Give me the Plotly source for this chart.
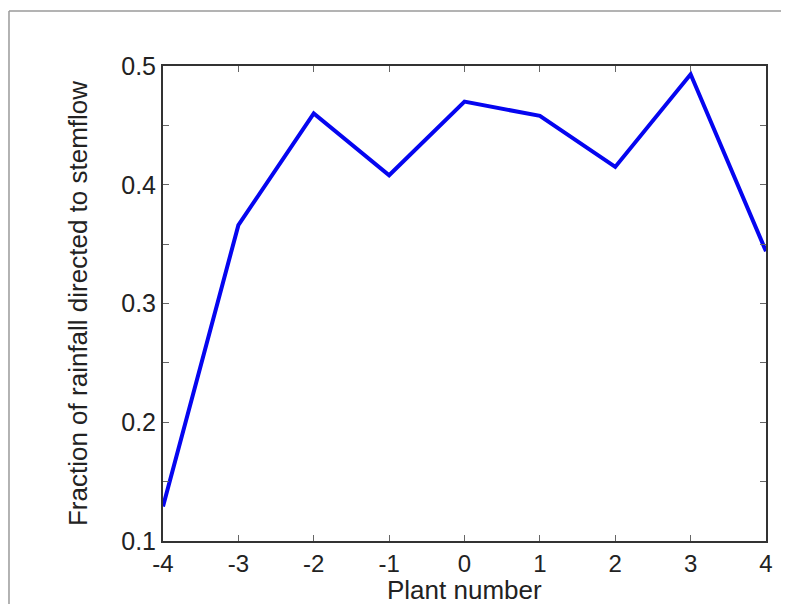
import plotly.graph_objects as go

plant_number = [-4, -3, -2, -1, 0, 1, 2, 3, 4]
fraction_stemflow = [0.129, 0.366, 0.460, 0.408, 0.470, 0.458, 0.415, 0.493, 0.344]
x_ticks = [-4, -3, -2, -1, 0, 1, 2, 3, 4]
y_ticks = [0.1, 0.2, 0.3, 0.4, 0.5]

fig = go.Figure()
fig.add_trace(go.Scatter(
    x=plant_number, y=fraction_stemflow, mode="lines",
    line=dict(color="#0505f0", width=4), showlegend=False,
))

font_family = "Liberation Sans, Arial, sans-serif"
# page body has an 8px margin, so the figure is 16px smaller and offsets compensate
fig.update_layout(
    width=773, height=596,
    margin=dict(l=155, r=15, t=58, b=63),
    paper_bgcolor="white", plot_bgcolor="white",
    font=dict(family=font_family, size=25, color="#222"),
    xaxis=dict(
        range=[-4, 4], tickvals=x_ticks, ticktext=[str(v) for v in x_ticks],
        ticks="inside", ticklen=6, tickcolor="#666", tickwidth=1,
        showline=True, linecolor="#333", linewidth=2, mirror="ticks",
        showgrid=False, zeroline=False, automargin=False,
        tickfont=dict(size=24),
    ),
    yaxis=dict(
        range=[0.1, 0.5], tickvals=y_ticks, ticktext=[f"{v:.1f}" for v in y_ticks],
        ticks="inside", ticklen=6, tickcolor="#666", tickwidth=1,
        minor=dict(dtick=0.05, tick0=0.1, ticks="inside", ticklen=6, tickcolor="#666", showgrid=False),
        showline=True, linecolor="#333", linewidth=2, mirror="ticks",
        showgrid=False, zeroline=False, automargin=False,
        title=dict(text="Fraction of rainfall directed to stemflow", font=dict(size=26), standoff=26),
        tickfont=dict(size=25),
    ),
    annotations=[
        dict(text="Plant number", xref="paper", yref="paper", x=0.5, y=-0.138,
             xanchor="center", yanchor="bottom", showarrow=False,
             font=dict(family=font_family, size=26, color="#222")),
    ],
    shapes=[
        dict(type="line", xref="paper", yref="paper", x0=-0.2554, x1=1.2, y0=1.1158, y1=1.1158,
             line=dict(color="#9a9a9a", width=1.5)),
        dict(type="line", xref="paper", yref="paper", x0=-0.2554, x1=-0.2554, y0=1.1158, y1=-0.3,
             line=dict(color="#9a9a9a", width=1.5)),
    ],
)

fig.write_html("out.html", config={"displayModeBar": False})
